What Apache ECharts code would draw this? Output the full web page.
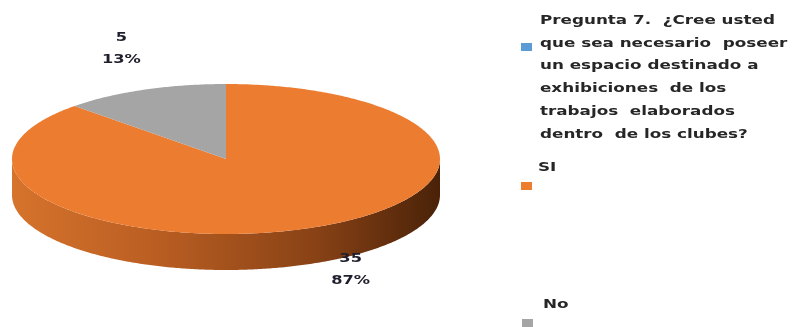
<!DOCTYPE html>
<html><head><meta charset="utf-8">
<script src="https://cdn.jsdelivr.net/npm/echarts@6/dist/echarts.min.js"></script>
<style>html,body{margin:0;padding:0;background:#fff}#c{width:792px;height:327px}</style>
</head><body><div id="c"></div>
<script>
// ---- data ----
const categories = ['SI', 'No'];
const values = [35, 5];
const pctLabels = ['87%', '13%'];
const seriesName = 'Pregunta 7.  ¿Cree usted\nque sea necesario  poseer\nun espacio destinado a\nexhibiciones  de los\ntrabajos  elaborados\ndentro  de los clubes?';

// ---- styles ----
const topColors = ['#EC7C30', '#A5A5A5'];
const seriesColor = '#5B9BD5';
const FONT = '"DejaVu Sans", sans-serif';

const chart = echarts.init(document.getElementById('c'));
const total = values.reduce((a, b) => a + b, 0);
const CX = 226, CY = 159, RX = 214, RY = 75, DEPTH = 36;
function pt(a, dy) { return [CX + RX * Math.cos(a), CY + RY * Math.sin(a) + (dy || 0)]; }
function arc(a0, a1, dy) {
  const n = Math.max(2, Math.ceil(Math.abs(a1 - a0) / 0.01));
  const r = [];
  for (let i = 0; i <= n; i++) r.push(pt(a0 + (a1 - a0) * i / n, dy));
  return r;
}

function renderItem(params, api) {
  const i = params.dataIndex;
  let before = 0;
  for (let k = 0; k < i; k++) before += values[k];
  const v = api.value(0);
  const a0 = -Math.PI / 2 + before / total * 2 * Math.PI;
  const a1 = a0 + v / total * 2 * Math.PI;
  const children = [];
  // side (front half only)
  for (let k = -1; k <= 1; k++) {
    const s = Math.max(a0, 2 * Math.PI * k), e = Math.min(a1, 2 * Math.PI * k + Math.PI);
    if (e > s) {
      const pts = arc(s, e, 0).concat(arc(e, s, DEPTH));
      children.push({
        type: 'polygon', shape: { points: pts },
        style: {
          fill: i === 0 ? new echarts.graphic.LinearGradient(0, 0, 1, 0, [
            { offset: 0, color: '#d6732c' },
            { offset: 0.35, color: '#b85d22' },
            { offset: 0.7, color: '#8a4316' },
            { offset: 1, color: '#4a2208' }
          ]) : '#7a7a7a'
        }
      });
    }
  }
  // top face
  children.push({
    type: 'polygon', shape: { points: [[CX, CY]].concat(arc(a0, a1, 0)) },
    style: { fill: topColors[i] }
  });
  // label
  const m = (a0 + a1) / 2;
  children.push({
    type: 'text',
    x: CX + 10 + 1.4 * RX * Math.cos(m),
    y: CY + 1.6 * RY * Math.sin(m),
    scaleX: 1.25,
    style: {
      text: v + '\n' + pctLabels[i], fill: '#1e1e2c',
      font: 'bold 13px ' + FONT, align: 'center', verticalAlign: 'middle', lineHeight: 22
    }
  });
  return { type: 'group', children };
}

// legend built from data arrays
const legendItems = [
  { name: seriesName, color: seriesColor, tx: 540, ty: 9, mx: 521, my: 43 },
  { name: categories[0], color: topColors[0], tx: 538, ty: 156, mx: 521, my: 182 },
  { name: categories[1], color: topColors[1], tx: 543, ty: 293, mx: 522, my: 319 }
];
const graphic = [];
legendItems.forEach(it => {
  graphic.push({ type: 'rect', x: it.mx, y: it.my, shape: { width: 11, height: 8 }, style: { fill: it.color } });
  graphic.push({ type: 'text', x: it.tx, y: it.ty, scaleX: 1.29, style: { text: it.name, fill: '#262626', font: 'bold 13px ' + FONT, lineHeight: 22.8, verticalAlign: 'top' } });
});

chart.setOption({
  backgroundColor: '#fff',
  animation: false,
  series: [{
    type: 'custom',
    name: seriesName,
    coordinateSystem: 'none',
    renderItem: renderItem,
    data: values.map((v, i) => ({ name: categories[i], value: [v] }))
  }],
  graphic: graphic
});
</script></body></html>
